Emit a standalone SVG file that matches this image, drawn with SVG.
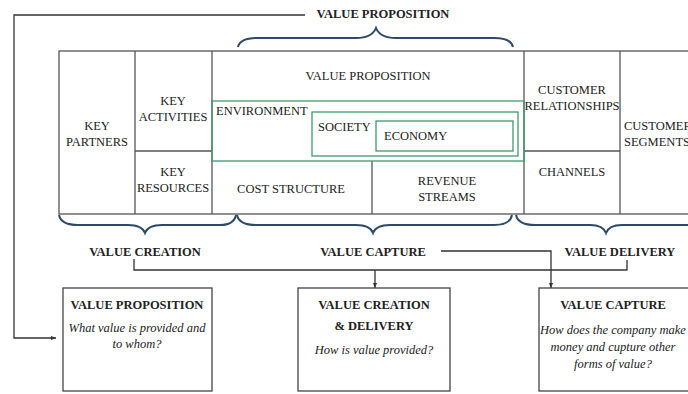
<svg xmlns="http://www.w3.org/2000/svg" width="688" height="394" viewBox="0 0 688 394" font-family="'Liberation Serif', 'DejaVu Serif', serif">
<style>
text{font-family:'Liberation Serif','DejaVu Serif',serif;font-size:12.5px;fill:#222}
.b{font-weight:bold}
.i{font-style:italic}
.c{text-anchor:middle}
.cell{fill:none;stroke:#555;stroke-width:1.3}
.g{fill:none;stroke:#3f9a6c;stroke-width:1.3}
.br{fill:none;stroke:#2e4a66;stroke-width:2}
.ln{fill:none;stroke:#333;stroke-width:1.3}
.box{fill:#fff;stroke:#444;stroke-width:1.3}
</style>
<defs>
<marker id="ah" markerWidth="6" markerHeight="6" refX="5" refY="3" orient="auto" markerUnits="userSpaceOnUse">
<path d="M0,1 L5,3 L0,5 z" fill="#333"/>
</marker>
</defs>
<g id="canvas">
<rect class="cell" x="59" y="51" width="640" height="163"/>
<line class="cell" x1="135" y1="51" x2="135" y2="214"/>
<line class="cell" x1="212" y1="51" x2="212" y2="214"/>
<line class="cell" x1="524" y1="51" x2="524" y2="214"/>
<line class="cell" x1="620" y1="51" x2="620" y2="214"/>
<line class="cell" x1="135" y1="151" x2="212" y2="151"/>
<line class="cell" x1="524" y1="151" x2="620" y2="151"/>
<line class="cell" x1="372" y1="161" x2="372" y2="214"/>
</g>
<g id="key-partners"><text class="c" x="97" y="130">KEY</text><text class="c" x="97" y="146">PARTNERS</text></g>
<g id="key-activities"><text class="c" x="173" y="105">KEY</text><text class="c" x="173" y="121">ACTIVITIES</text></g>
<g id="key-resources"><text class="c" x="173" y="176">KEY</text><text class="c" x="173" y="192">RESOURCES</text></g>
<g id="value-proposition-cell"><text class="c" x="368" y="80">VALUE PROPOSITION</text></g>
<g id="environment"><rect class="g" x="212" y="101" width="312" height="60"/><text x="216" y="115">ENVIRONMENT</text></g>
<g id="society"><rect class="g" x="312" y="112" width="206" height="44"/><text x="318" y="131">SOCIETY</text></g>
<g id="economy"><rect class="g" x="376" y="121" width="137" height="30"/><text x="384" y="140">ECONOMY</text></g>
<g id="cost-structure"><text class="c" x="291" y="193">COST STRUCTURE</text></g>
<g id="revenue-streams"><text class="c" x="447" y="185">REVENUE</text><text class="c" x="447" y="201">STREAMS</text></g>
<g id="customer-relationships"><text class="c" x="572" y="94">CUSTOMER</text><text class="c" x="572" y="110">RELATIONSHIPS</text></g>
<g id="channels"><text class="c" x="572" y="176">CHANNELS</text></g>
<g id="customer-segments"><text x="624" y="130">CUSTOMER</text><text x="624" y="146">SEGMENTS</text></g>
<g id="braces">
<path class="br" d="M238,47 Q240,38 258,38 L356,38 Q372,38 376,28 Q380,38 396,38 L494,38 Q511,38 513,47"/>
<path class="br" d="M59,215 Q61,225 78,225 L128,225 Q142,225 145,233 Q148,225 162,225 L220,225 Q234,225 236,215"/>
<path class="br" d="M237,215 Q239,225 256,225 L356,225 Q370,225 373,233 Q376,225 390,225 L494,225 Q510,225 512,215"/>
<path class="br" d="M516,215 Q518,225 535,225 L590,225 Q603,225 606,233 Q609,225 622,225 L688,225"/>
</g>
<g id="labels">
<text class="b c" x="383" y="18">VALUE PROPOSITION</text>
<text class="b c" x="145" y="256">VALUE CREATION</text>
<text class="b c" x="373" y="256">VALUE CAPTURE</text>
<text class="b c" x="620" y="256">VALUE DELIVERY</text>
</g>
<g id="connectors">
<path class="ln" d="M305,15 L14,15 L14,338 L56,338" marker-end="url(#ah)"/>
<path class="ln" d="M134,259 L134,270 L627,270 L627,260"/>
<path class="ln" d="M375,270 L375,288" marker-end="url(#ah)"/>
<path class="ln" d="M441,251 L551,251 L551,288" marker-end="url(#ah)"/>
</g>
<g id="box-value-proposition">
<rect class="box" x="63" y="288" width="149" height="103"/>
<text class="b c" x="137" y="309">VALUE PROPOSITION</text>
<text class="i c" x="137" y="332">What value is provided and</text>
<text class="i c" x="137" y="348">to whom?</text>
</g>
<g id="box-value-creation-delivery">
<rect class="box" x="298" y="288" width="152" height="103"/>
<text class="b c" x="374" y="309">VALUE CREATION</text>
<text class="b c" x="374" y="330">&amp; DELIVERY</text>
<text class="i c" x="374" y="354">How is value provided?</text>
</g>
<g id="box-value-capture">
<rect class="box" x="539" y="288" width="160" height="103"/>
<text class="b c" x="613" y="309">VALUE CAPTURE</text>
<text class="i c" x="613" y="334">How does the company make</text>
<text class="i c" x="613" y="351">money and cupture other</text>
<text class="i c" x="613" y="368">forms of value?</text>
</g>
</svg>
